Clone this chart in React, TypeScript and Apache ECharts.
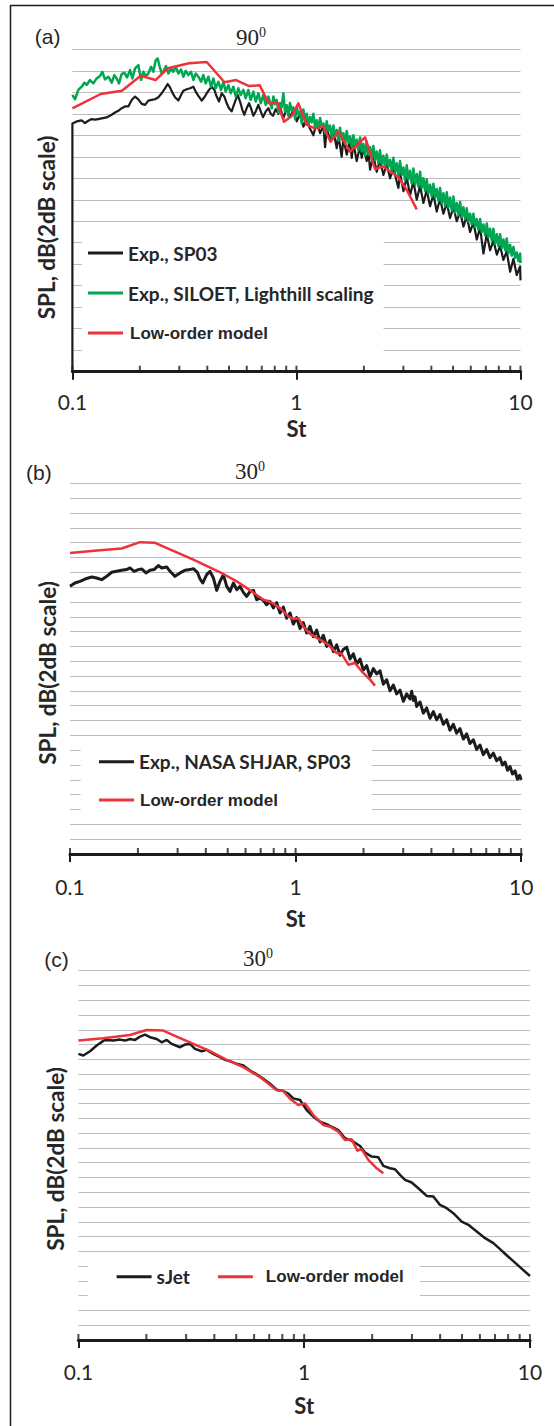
import React, { useEffect, useRef } from "react";
import * as echarts from "echarts";

// ---------- axis ticks (St) ----------
const tickValues = [0.1, 0.2, 0.3, 0.4, 0.5, 0.6, 0.7, 0.8, 0.9, 1, 2, 3, 4, 5, 6, 7, 8, 9, 10];

// ---------- panel (a) 90 deg ----------
const aSP03: [number, number][] = [
  [0.1, 0], [0.1, 23.1], [0.1045, 23.29], [0.11, 23.38], [0.1138, 23.14], [0.1178, 23.35], [0.1219, 23.51],
  [0.1261, 23.45], [0.1305, 23.51], [0.1351, 23.57], [0.1422, 23.66], [0.1497, 23.91], [0.155, 24.12],
  [0.1603, 24.28], [0.166, 24.52], [0.1717, 24.68], [0.1777, 24.68], [0.1839, 25.29], [0.1904, 25.6],
  [0.197, 25.35], [0.2039, 24.92], [0.211, 24.83], [0.2183, 25.23], [0.2259, 25.29], [0.2338, 25.35],
  [0.2419, 25.54], [0.2504, 25.91], [0.2591, 26.37], [0.2663, 26.77], [0.2728, 26.46], [0.2794, 25.97],
  [0.2871, 25.54], [0.2972, 25.23], [0.3054, 25.75], [0.3128, 26.15], [0.3238, 26.28], [0.335, 26.37],
  [0.3467, 26.52], [0.3551, 26.06], [0.365, 25.66], [0.3778, 25.23], [0.3882, 25.54], [0.3976, 25.91],
  [0.4073, 26.22], [0.4186, 26.52], [0.4302, 26.22], [0.4406, 25.6], [0.4513, 25.14], [0.4638, 25.91],
  [0.4767, 25.6], [0.4883, 24.98], [0.5002, 24.52], [0.514, 24.22], [0.5229, 24.68], [0.5356, 25.29],
  [0.5467, 25.75], [0.56, 25.14], [0.5736, 24.37], [0.5854, 23.91], [0.5997, 24.52], [0.6142, 24.98],
  [0.6269, 24.52], [0.6422, 23.82], [0.6578, 24.22], [0.6761, 24.83], [0.6926, 24.22], [0.7094, 23.69],
  [0.7291, 24.22], [0.7493, 24.52], [0.7675, 24.0], [0.7862, 23.82], [0.808, 24.43], [0.8305, 24.0],
  [0.845, 24.6], [0.874, 23.6], [0.905, 24.5], [0.936, 23.7], [0.969, 24.3], [1.003, 23.3], [1.038, 24.0],
  [1.074, 22.8], [1.111, 23.6], [1.15, 22.6], [1.19, 22.0], [1.231, 23.2], [1.275, 22.2], [1.319, 22.9],
  [1.342, 20.9], [1.365, 22.6], [1.413, 21.6], [1.462, 22.4], [1.513, 20.8], [1.539, 22.0], [1.592, 20.0],
  [1.62, 21.7], [1.677, 20.2], [1.735, 21.5], [1.765, 19.9], [1.795, 21.3], [1.858, 19.6], [1.923, 21.0],
  [1.956, 19.9], [1.99, 20.8], [2.059, 19.6], [2.095, 20.5], [2.131, 18.8], [2.205, 20.1], [2.282, 18.6],
  [2.361, 19.7], [2.444, 18.3], [2.529, 19.3], [2.617, 18.0], [2.708, 18.9], [2.851, 17.1], [2.9, 18.5],
  [3.002, 16.8], [3.106, 18.1], [3.214, 16.4], [3.327, 17.7], [3.443, 16.0], [3.563, 17.3], [3.687, 15.7],
  [3.815, 16.9], [3.948, 15.4], [4.086, 16.5], [4.228, 14.9], [4.376, 16.1], [4.529, 14.7], [4.686, 15.7],
  [4.849, 14.3], [5.019, 15.3], [5.194, 14.0], [5.375, 14.9], [5.562, 13.5], [5.756, 14.5], [5.957, 13.0],
  [6.165, 13.9], [6.38, 12.3], [6.601, 13.4], [6.831, 11.0], [7.07, 12.8], [7.316, 11.3], [7.572, 12.2],
  [7.84, 10.9], [8.11, 11.7], [8.39, 10.4], [8.68, 11.2], [8.99, 9.3], [9.3, 10.5], [9.62, 9.0], [9.96, 9.8],
  [10, 8.5],
];

const aSILOET: [number, number][] = [
  [0.1, 25.75], [0.1027, 25.35], [0.1063, 26.22], [0.11, 26.52], [0.1131, 26.89], [0.1158, 26.68],
  [0.1198, 27.14], [0.124, 26.83], [0.1283, 27.29], [0.1328, 27.51], [0.136, 27.91], [0.1398, 27.2],
  [0.1447, 27.45], [0.1497, 26.89], [0.1539, 27.6], [0.1576, 27.29], [0.1614, 26.83], [0.1659, 27.69],
  [0.1706, 27.82], [0.1753, 27.38], [0.1808, 28.06], [0.1852, 27.29], [0.1904, 28.22], [0.197, 28.52],
  [0.2025, 27.14], [0.2074, 27.91], [0.2124, 27.51], [0.2183, 27.75], [0.2244, 28.37], [0.2298, 27.91],
  [0.2354, 28.98], [0.2403, 29.14], [0.2453, 28.37], [0.2504, 27.75], [0.2556, 28.0], [0.2618, 28.43],
  [0.2682, 27.75], [0.2756, 28.22], [0.2822, 27.91], [0.2891, 28.37], [0.2972, 27.75], [0.3054, 28.12],
  [0.3128, 27.45], [0.3205, 28.0], [0.3294, 27.6], [0.3385, 27.91], [0.3467, 27.14], [0.3551, 27.75],
  [0.365, 27.45], [0.3751, 26.98], [0.384, 27.6], [0.3936, 26.83], [0.4044, 27.45], [0.4157, 26.52],
  [0.4258, 27.29], [0.4361, 26.37], [0.4482, 26.98], [0.4607, 26.22], [0.4719, 26.98], [0.4833, 26.06],
  [0.4968, 26.68], [0.5088, 25.91], [0.5229, 26.52], [0.5356, 25.6], [0.5504, 26.37], [0.5638, 25.75],
  [0.5795, 26.22], [0.5935, 25.45], [0.61, 26.22], [0.6248, 25.29], [0.6422, 26.06], [0.6578, 25.14],
  [0.6761, 25.91], [0.6926, 24.98], [0.7118, 25.75], [0.7291, 24.83], [0.7493, 25.6],
  [0.776, 24.5], [0.789, 25.6], [0.803, 24.9], [0.816, 25.3], [0.831, 24.1], [0.845, 25.0], [0.859, 24.6],
  [0.874, 25.9], [0.889, 24.2], [0.905, 24.8], [0.92, 23.8], [0.936, 25.0], [0.953, 24.3], [0.969, 24.6],
  [0.986, 23.5], [1.003, 24.6], [1.02, 23.9], [1.038, 24.2], [1.056, 23.1], [1.074, 24.4], [1.092, 23.4],
  [1.111, 24.0], [1.13, 23.0], [1.15, 23.7], [1.17, 23.2], [1.19, 24.0], [1.211, 22.7], [1.231, 23.4],
  [1.253, 22.6], [1.275, 23.6], [1.297, 22.8], [1.319, 23.1], [1.342, 22.2], [1.365, 23.3], [1.389, 22.4],
  [1.413, 22.9], [1.437, 21.8], [1.462, 22.9], [1.487, 21.9], [1.513, 22.5], [1.539, 21.5], [1.565, 22.7],
  [1.592, 21.6], [1.62, 22.2], [1.648, 21.2], [1.677, 22.4], [1.706, 21.3], [1.735, 21.9], [1.765, 20.9],
  [1.795, 22.0], [1.826, 20.8], [1.858, 21.6], [1.89, 20.6], [1.923, 21.8], [1.956, 20.5], [1.99, 21.2],
  [2.024, 20.1], [2.059, 21.4], [2.095, 20.2], [2.131, 20.9], [2.168, 19.8], [2.205, 21.0], [2.243, 19.7],
  [2.282, 20.5], [2.321, 19.4], [2.361, 20.6], [2.402, 19.3], [2.444, 20.1], [2.486, 19.0], [2.529, 20.2],
  [2.573, 19.1], [2.617, 19.7], [2.662, 18.7], [2.708, 19.9], [2.755, 18.6], [2.803, 19.4], [2.851, 18.2],
  [2.9, 19.6], [2.95, 18.3], [3.002, 19.0], [3.053, 17.8], [3.106, 19.2], [3.16, 17.9], [3.214, 18.7],
  [3.27, 17.5], [3.327, 18.9], [3.384, 17.4], [3.443, 18.4], [3.502, 17.2], [3.563, 18.6], [3.624, 17.1],
  [3.687, 18.0], [3.751, 16.8], [3.815, 17.9], [3.881, 16.6], [3.948, 17.4], [4.016, 16.3], [4.086, 17.5],
  [4.156, 16.2], [4.228, 17.0], [4.301, 15.9], [4.376, 17.1], [4.451, 15.7], [4.529, 16.6], [4.607, 15.4],
  [4.686, 16.7], [4.767, 15.3], [4.849, 16.2], [4.933, 15.0], [5.019, 16.3], [5.105, 14.8], [5.194, 15.7],
  [5.283, 14.6], [5.375, 15.8], [5.468, 14.4], [5.562, 15.3], [5.658, 14.2], [5.756, 15.2], [5.856, 14.0],
  [5.957, 14.7], [6.06, 13.7], [6.165, 14.7], [6.271, 13.5], [6.38, 14.2], [6.49, 13.2], [6.601, 14.2],
  [6.715, 13.0], [6.831, 13.7], [6.949, 12.7], [7.07, 13.8], [7.192, 12.5], [7.316, 13.3], [7.443, 12.2],
  [7.572, 13.3], [7.703, 11.9], [7.84, 12.8], [7.97, 11.7], [8.11, 12.8], [8.25, 11.5], [8.39, 12.3],
  [8.54, 11.3], [8.68, 12.4], [8.83, 11.0], [8.99, 11.8], [9.14, 10.8], [9.3, 11.6], [9.46, 10.6],
  [9.62, 11.1], [9.79, 10.3], [9.96, 11.0], [10, 10.1],
];

const aModel: [number, number][] = [
  [0.1, 24.51], [0.1338, 25.84], [0.1663, 26.15], [0.2017, 27.54], [0.235, 27.14], [0.2667, 28.23],
  [0.3316, 28.7], [0.3978, 28.82], [0.4771, 26.93], [0.5375, 27.14], [0.615, 26.58], [0.6859, 26.65],
  [0.7515, 24.97], [0.822, 25.03], [0.88, 23.26], [0.953, 23.79], [1.02, 24.97], [1.111, 22.96],
  [1.211, 22.64], [1.319, 22.8], [1.42, 21.4], [1.539, 22.33], [1.735, 20.47], [2.024, 21.81],
  [2.243, 18.86], [2.444, 19.08], [2.851, 18.09], [3.106, 16.91], [3.443, 15.11],
];

// ---------- panel (b) 30 deg ----------
const bSHJAR: [number, number][] = [
  [0.1, 36.1], [0.1052, 36.55], [0.1107, 36.78], [0.1166, 37.09], [0.1248, 37.36], [0.1313, 37.23],
  [0.1382, 37.0], [0.1454, 37.45], [0.153, 38.0], [0.161, 38.13], [0.1694, 38.27], [0.1783, 38.36],
  [0.1845, 38.58], [0.1922, 38.13], [0.2009, 38.36], [0.2078, 38.45], [0.2172, 37.91], [0.2262, 38.27],
  [0.2357, 38.36], [0.2464, 38.9], [0.2549, 38.58], [0.2683, 38.72], [0.2776, 38.13], [0.292, 37.45],
  [0.3074, 37.91], [0.3235, 38.27], [0.3404, 38.36], [0.3522, 38.49], [0.3669, 38.0], [0.377, 37.09],
  [0.3875, 36.55], [0.4035, 37.68], [0.4175, 38.13], [0.432, 37.23], [0.4469, 35.56], [0.4624, 36.78],
  [0.4784, 37.68], [0.4951, 36.1], [0.5121, 35.42], [0.5299, 36.55], [0.5482, 35.65], [0.5671, 36.1],
  [0.5867, 35.29], [0.6071, 34.74], [0.6282, 35.42], [0.6499, 35.56], [0.6724, 34.29], [0.6957, 34.52],
  [0.7194, 34.2], [0.7443, 33.62], [0.77, 34.07],
  [0.7967, 33.2], [0.8243, 33.9], [0.853, 32.5], [0.8822, 33.3], [0.9129, 31.8], [0.9445, 32.5],
  [0.9772, 31.0], [1.0111, 31.9], [1.0459, 30.4], [1.0822, 31.2], [1.1197, 29.8], [1.1585, 30.7],
  [1.1984, 29.3], [1.24, 30.2], [1.283, 28.6], [1.3274, 29.5], [1.3732, 28.0], [1.4208, 28.8],
  [1.4701, 27.3], [1.521, 28.2], [1.5733, 26.8], [1.6279, 27.6], [1.6843, 27.9], [1.7427, 26.3],
  [1.8027, 27.0], [1.8651, 25.6], [1.9297, 26.3], [1.9966, 24.8], [2.0654, 25.4], [2.137, 23.9],
  [2.2111, 25.0], [2.2877, 24.3], [2.3665, 24.7], [2.4485, 22.9], [2.5334, 23.5], [2.6212, 22.0],
  [2.7114, 22.8], [2.8054, 21.6], [2.9026, 22.1], [3.0032, 20.6], [3.1064, 21.6], [3.2141, 20.9],
  [3.2696, 21.95], [3.3254, 20.7], [3.3827, 21.2], [3.4407, 19.9], [3.5592, 20.5], [3.6826, 19.0],
  [3.8102, 19.7], [3.9422, 18.3], [4.0781, 19.2], [4.2194, 18.1], [4.3656, 18.8], [4.5168, 17.5],
  [4.6723, 18.1], [4.8343, 16.7], [5.0018, 17.5], [5.1752, 16.3], [5.3544, 16.9], [5.5398, 15.5],
  [5.7318, 16.2], [5.9304, 14.9], [6.1347, 15.4], [6.3472, 14.1], [6.5672, 14.7], [6.7948, 13.4],
  [7.029, 14.1], [7.2726, 13.0], [7.5246, 13.6], [7.7854, 12.6], [8.05, 13.0], [8.26, 12.0],
  [8.48, 12.4], [8.7, 11.3], [8.92, 11.8], [9.15, 10.8], [9.39, 11.2], [9.62, 10.1], [9.85, 10.6],
  [10, 10.0],
];

const bModel: [number, number][] = [
  [0.1, 40.61], [0.1358, 40.97], [0.1694, 41.2], [0.2043, 42.06], [0.2381, 41.97], [0.3522, 39.71],
  [0.4784, 37.77], [0.5481, 36.78], [0.6391, 35.42], [0.7194, 34.29], [0.77, 34.05], [0.853, 33.16],
  [0.9285, 32.04], [0.9772, 31.68], [1.0285, 31.81], [1.0822, 30.69], [1.1582, 29.7], [1.283, 28.9],
  [1.3973, 28.22], [1.5205, 27.1], [1.6003, 27.0], [1.713, 25.53], [1.8336, 25.76], [1.9626, 24.64],
  [2.137, 23.52], [2.2482, 22.71],
];

// ---------- panel (c) 30 deg ----------
const cSJet: [number, number][] = [
  [0.1, 38.74], [0.1051, 38.52], [0.1126, 39.1], [0.1205, 39.87], [0.1289, 40.5], [0.1312, 40.63],
  [0.1428, 40.54], [0.1528, 40.67], [0.1608, 40.54], [0.1692, 40.76], [0.1781, 40.63], [0.1875, 41.08],
  [0.1972, 41.35], [0.2075, 41.0], [0.2222, 40.76], [0.2338, 40.31], [0.246, 40.63], [0.2588, 40.09],
  [0.2818, 39.64], [0.2966, 40.0], [0.3122, 40.09], [0.3284, 39.42], [0.3515, 39.1], [0.37, 39.28],
  [0.3959, 38.74], [0.4238, 38.29], [0.446, 37.93], [0.4693, 37.75], [0.5023, 37.39], [0.5377, 37.17],
  [0.5754, 36.49], [0.6161, 35.96], [0.6592, 35.37], [0.7055, 34.7], [0.7552, 33.89], [0.8083, 33.71],
  [0.8506, 33.35], [0.895, 32.71], [0.9581, 32.49], [1.0254, 31.14], [1.0975, 30.23], [1.1749, 29.56],
  [1.2791, 29.11], [1.4167, 28.43], [1.5159, 27.31], [1.6226, 26.99], [1.7668, 26.27], [1.8592, 25.37],
  [1.9897, 24.83], [2.1297, 24.74], [2.2414, 23.57], [2.3988, 23.25], [2.5245, 23.12], [2.6565, 22.35],
  [2.7956, 21.68], [2.9923, 21.32], [3.2028, 20.55], [3.4872, 19.51], [3.7325, 19.42], [3.9947, 18.29],
  [4.2756, 17.84], [4.5761, 17.17], [4.9831, 16.04], [5.3333, 15.59], [5.8076, 14.69], [6.3241, 13.79],
  [6.8847, 13.12], [7.367, 12.31], [7.7503, 11.68], [8.7, 10.3], [10, 8.66],
];

const cModel: [number, number][] = [
  [0.1, 40.54], [0.1289, 40.85], [0.1692, 41.3], [0.2006, 41.98], [0.2378, 41.89], [0.2724, 41.08],
  [0.3228, 40.09], [0.3827, 39.1], [0.4537, 37.93], [0.5377, 36.94], [0.6372, 35.6], [0.7552, 33.8],
  [0.8083, 33.7], [0.8653, 32.67], [0.9419, 31.81], [1.0081, 32.04], [1.0975, 30.46], [1.2154, 29.11],
  [1.3011, 28.88], [1.4167, 28.21], [1.5159, 27.08], [1.6226, 27.17], [1.7194, 25.64], [1.797, 25.82],
  [1.9231, 24.38], [2.0941, 23.25], [2.2414, 22.58],
];

const BLACK = "#1c1c1c";
const GREEN = "#00a651";
const RED = "#ee3239";
const GRIDC = "#bdbdbd";
const TXT = "#262626";

const grids = [
  { left: 72.4, top: 49.3, width: 448.1, height: 322.4 },
  { left: 70, top: 483.3, width: 451.2, height: 370.7 },
  { left: 78.4, top: 970.7, width: 451.6, height: 369.3 },
];
const yMax = [30, 50, 50];
const labelMargins = [19, 22, 21];
const nameGaps = [46, 53.5, 54];

function xAxisFor(i: number) {
  return {
    type: "log",
    gridIndex: i,
    logBase: 10,
    min: 0.1,
    max: 10,
    axisLine: { show: true, onZero: false, lineStyle: { color: BLACK, width: 3 } },
    axisTick: { show: true, length: 8, lineStyle: { color: BLACK, width: 2 } },
    axisLabel: {
      margin: labelMargins[i],
      fontFamily: "Lato",
      fontSize: 21,
      lineHeight: 21,
      color: TXT,
      formatter: (v: number) => String(+v.toPrecision(3)),
    },
    splitLine: { show: false },
    name: "St",
    nameLocation: "middle",
    nameGap: nameGaps[i],
    nameTextStyle: { fontFamily: "Lato", fontWeight: "bold", fontSize: 22, lineHeight: 22, color: TXT },
  };
}

function yAxisFor(i: number) {
  return {
    type: "value",
    gridIndex: i,
    min: 0,
    max: yMax[i],
    interval: 2,
    axisLine: { show: false },
    axisTick: { show: false },
    axisLabel: { show: false },
    splitLine: { show: true, lineStyle: { color: GRIDC, width: 1.2 } },
  };
}

function lineSeries(name: string, i: number, data: [number, number][], color: string, width: number) {
  return {
    type: "line",
    name,
    xAxisIndex: i,
    yAxisIndex: i,
    data,
    showSymbol: false,
    symbol: "none",
    lineStyle: { color, width, join: "round" },
    itemStyle: { color },
    z: 3,
  };
}

function tickSeries(i: number) {
  return {
    type: "scatter",
    xAxisIndex: i,
    yAxisIndex: i,
    data: tickValues.map((v) => [v, 0]),
    symbol: "rect",
    symbolSize: [2, 6],
    symbolOffset: [0, -3],
    itemStyle: { color: BLACK },
    silent: true,
    clip: false,
    z: 6,
  };
}

const legendText = { fontFamily: "Lato", fontWeight: "bold", fontSize: 19, lineHeight: 20, color: TXT };
const modelText = { fontFamily: "Liberation Sans", fontWeight: "bold", fontSize: 17, lineHeight: 20, color: TXT };

function yTitle(x: number, y: number) {
  return {
    type: "text",
    x,
    y,
    rotation: Math.PI / 2,
    silent: true,
    style: {
      text: "SPL, dB(2dB scale)",
      fontFamily: "Lato",
      fontWeight: "bold",
      fontSize: 22.5,
      fill: TXT,
      align: "center",
      verticalAlign: "middle",
    },
  };
}

function panelLabel(text: string, x: number, y: number) {
  return {
    type: "text",
    x,
    y,
    silent: true,
    style: { text, fontFamily: "Liberation Sans", fontSize: 21, fill: TXT, align: "center", verticalAlign: "middle" },
  };
}

function angleTitle(deg: string, x: number, y: number) {
  return {
    type: "text",
    x,
    y,
    silent: true,
    style: {
      text: `{n|${deg}}{s|0}`,
      align: "center",
      verticalAlign: "middle",
      rich: {
        n: { fontFamily: "Liberation Serif", fontSize: 23, fill: TXT, lineHeight: 24 },
        s: { fontFamily: "Liberation Serif", fontSize: 14, fill: TXT, verticalAlign: "top", lineHeight: 24 },
      },
    },
  };
}

const option = {
  animation: false,
  backgroundColor: "#ffffff",
  grid: grids,
  xAxis: [0, 1, 2].map(xAxisFor),
  yAxis: [0, 1, 2].map(yAxisFor),
  legend: [
    {
      orient: "vertical",
      left: 82,
      top: 235,
      icon: "rect",
      itemWidth: 35,
      itemHeight: 3,
      itemGap: 20,
      padding: [8, 10, 12, 6],
      backgroundColor: "#ffffff",
      selectedMode: false,
      textStyle: legendText,
      data: ["Exp., SP03", "Exp., SILOET, Lighthill scaling", { name: "Low-order model", textStyle: { ...modelText, padding: [0, 0, 0, 2] } }],
    },
    {
      orient: "vertical",
      left: 80.6,
      top: 742,
      icon: "rect",
      itemWidth: 35,
      itemHeight: 3,
      itemGap: 18.3,
      padding: [9.7, 20, 7, 18.4],
      backgroundColor: "#ffffff",
      selectedMode: false,
      textStyle: legendText,
      data: ["Exp., NASA SHJAR, SP03", { name: "Low-order model", textStyle: { ...modelText, padding: [0, 0, 0, 1] } }],
    },
    {
      orient: "horizontal",
      left: 87.6,
      top: 1258,
      icon: "rect",
      itemWidth: 35,
      itemHeight: 3,
      itemGap: 28,
      padding: [8.7, 16, 17, 29],
      backgroundColor: "#ffffff",
      selectedMode: false,
      textStyle: legendText,
      data: ["sJet", { name: "Low-order model", textStyle: { ...modelText, padding: [0, 0, 0, 8] } }],
    },
  ],
  series: [
    lineSeries("Exp., SP03", 0, aSP03, BLACK, 2.2),
    lineSeries("Exp., SILOET, Lighthill scaling", 0, aSILOET, GREEN, 2.5),
    lineSeries("Low-order model", 0, aModel, RED, 2.5),
    lineSeries("Exp., NASA SHJAR, SP03", 1, bSHJAR, BLACK, 3),
    lineSeries("Low-order model", 1, bModel, RED, 2.5),
    lineSeries("sJet", 2, cSJet, BLACK, 2.5),
    lineSeries("Low-order model", 2, cModel, RED, 2.5),
    tickSeries(0),
    tickSeries(1),
    tickSeries(2),
  ],
  graphic: [
    {
      type: "rect",
      silent: true,
      shape: { x: 10.5, y: 5.5, width: 600, height: 1500 },
      style: { fill: "none", stroke: BLACK, lineWidth: 1.5 },
    },
    panelLabel("(a)", 47.7, 36.7),
    panelLabel("(b)", 38.9, 472.5),
    panelLabel("(c)", 56.5, 959),
    angleTitle("90", 251, 37),
    angleTitle("30", 250, 471),
    angleTitle("30", 258, 958),
    yTitle(46, 227.5),
    yTitle(47, 673),
    yTitle(55, 1159),
  ],
};

export default function App() {
  const ref = useRef<HTMLDivElement>(null);
  useEffect(() => {
    if (!ref.current) return;
    const chart = echarts.init(ref.current, null, { renderer: "svg" });
    chart.setOption(option as any);
    return () => chart.dispose();
  }, []);
  return (
    <div
      ref={ref}
      style={{ position: "absolute", left: 0, top: 0, width: 554, height: 1426, background: "#fff" }}
    />
  );
}
